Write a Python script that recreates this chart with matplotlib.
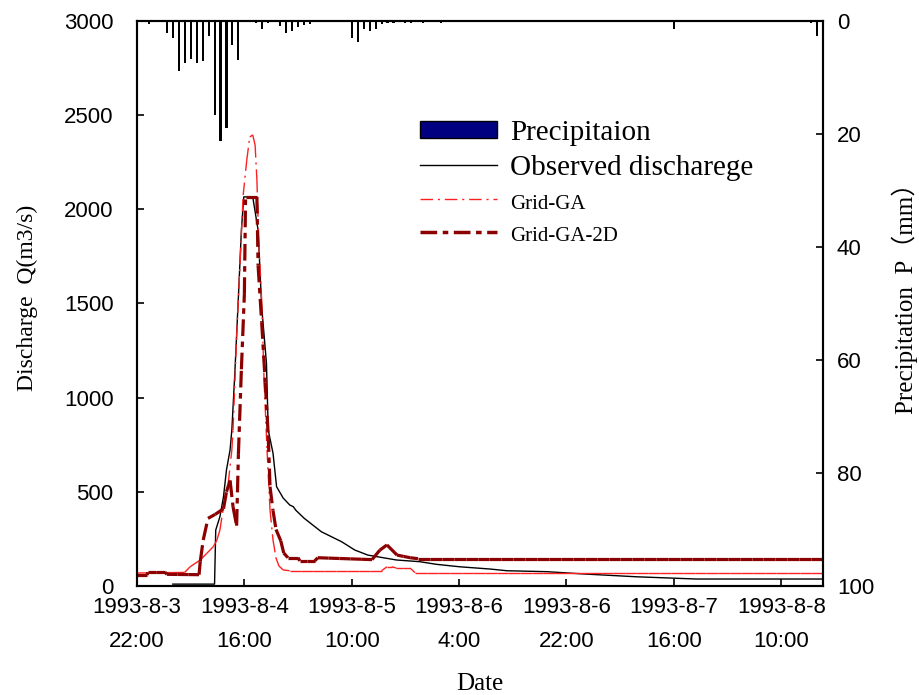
import numpy as np
import matplotlib.pyplot as plt
from matplotlib.collections import LineCollection
from matplotlib.lines import Line2D
from matplotlib.patches import Patch

plt.rcParams['font.family'] = 'Liberation Sans'
plt.rcParams['lines.scale_dashes'] = False

# time axis = hours after 1993-8-3 22:00
tick_hours = [0, 18, 36, 54, 72, 90, 108]
tick_labels = ["1993-8-3\n22:00", "1993-8-4\n16:00", "1993-8-5\n10:00", "1993-8-6\n4:00",
               "1993-8-6\n22:00", "1993-8-7\n16:00", "1993-8-8\n10:00"]

# hourly precipitation (mm)
rain_h = [2, 5, 6, 7, 8, 9, 10, 11, 12, 13, 14, 15, 16, 17, 20, 21, 22, 24, 25, 26, 27, 28, 29,
          36, 37, 38, 39, 40, 41, 42, 43, 45, 46, 48, 51, 90, 113, 114]
rain_mm = [0.5, 2.1, 3.1, 8.9, 7.5, 6.8, 7.5, 7.2, 2.7, 16.7, 21.2, 18.9, 4.3, 7.0, 0.4, 1.4, 0.4,
           0.9, 2.1, 1.8, 1.1, 0.8, 0.5, 3.1, 3.8, 1.4, 1.8, 1.4, 0.5, 0.4, 0.4, 0.4, 0.4, 0.4, 0.4,
           1.4, 0.4, 2.7]

# observed discharge
obs_h = [6.0, 12.6, 13.0, 13.2, 13.9, 14.5, 15.0, 15.6, 15.9, 16.4, 17.0, 17.5, 17.9, 19.4, 20.3,
         20.9, 21.7, 22.0, 22.8, 23.4, 24.5, 25.6, 26.2, 26.6, 28.0, 30.9, 34.3, 36.5, 38.7, 43.5,
         47.4, 50.2, 54.1, 59.2, 62.0, 68.7, 74.8, 83.7, 93.8, 115]
obs_q = [10, 10, 10, 297, 368, 474, 616, 722, 828, 1130, 1535, 1889, 2065, 2065, 1889,
         1482, 1183, 828, 705, 527, 467, 430, 421, 403, 360, 288, 235, 191, 164, 138,
         129, 115, 102, 90, 81, 76, 64, 49, 37, 37]

# Grid-GA
ga_h = [0, 8.0, 8.9, 10.6, 11.7, 12.8, 13.4, 13.9, 14.5, 15.3, 15.9, 16.1, 16.7, 17.3, 17.8,
        18.4, 18.9, 19.4, 19.8, 20.1, 20.4, 20.9, 21.3, 21.8, 22.3, 22.8, 23.3, 23.8, 24.5,
        25.6, 41.0, 41.9, 42.7, 43.5, 45.8, 46.6, 115]
ga_q = [69, 72, 102, 138, 173, 209, 244, 297, 420, 547, 722, 828, 1321, 1730, 2075,
        2260, 2383, 2394, 2340, 2155, 1836, 1518, 1093, 722, 403, 244, 149, 106, 85,
        81, 81, 102, 102, 95, 95, 71, 71]

# Grid-GA-2D
ga2d_h = [0, 1.7, 1.8, 4.7, 5.0, 10.4, 10.6, 11.1, 11.9, 13.1, 14.5, 15.0, 15.6, 16.1, 16.7,
          17.0, 17.5, 18.0, 18.2, 20.1, 20.3, 20.9, 21.5, 22.0, 22.3, 22.8, 23.3, 24.1, 24.6,
          25.3, 27.0, 27.3, 29.8, 30.3, 39.4, 40.7, 41.9, 43.6, 45.8, 47.1, 115]
ga2d_q = [58, 58, 73, 73, 62, 60, 129, 244, 359, 380, 410, 500, 560, 420, 320,
          700, 1150, 1550, 2065, 2065, 1700, 1400, 1080, 800, 527, 400, 300, 240, 175,
          150, 150, 133, 133, 150, 140, 190, 218, 164, 150, 145, 145]


def segments(h, q, step=2.0):
    # one path per piece so the dash pattern starts again on every piece,
    # as in the original plot (flat parts look solid, steep parts dashed)
    out = []
    for i in range(len(h) - 1):
        n = max(1, int(np.ceil((h[i + 1] - h[i]) / step)))
        xs = np.linspace(h[i], h[i + 1], n + 1)
        ys = np.linspace(q[i], q[i + 1], n + 1)
        out += [[(xs[j], ys[j]), (xs[j + 1], ys[j + 1])] for j in range(n)]
    return out


ga_dash = (0, (9, 3.5, 1.5, 3.5))
ga2d_dash = (0, (12, 4, 4, 4))

fig = plt.figure(figsize=(9.2, 6.95), dpi=100)
ax = fig.add_axes([137 / 920, 1 - 586 / 695, 686 / 920, 565.3 / 695])
ax2 = ax.twinx()

ax.plot(obs_h, obs_q, color='black', lw=1.0)
ax.add_collection(LineCollection(segments(ga_h, ga_q), colors='#ff2020', linewidths=1.0,
                                 linestyles=[ga_dash], capstyle='butt'))
ax.add_collection(LineCollection(segments(ga2d_h, ga2d_q), colors='#8b0000', linewidths=2.3,
                                 linestyles=[ga2d_dash], capstyle='butt'))

ax2.bar(rain_h, rain_mm, width=0.35, color='black')

ax.set_xlim(0, 115)
ax.set_ylim(0, 3000)
ax2.set_ylim(100, 0)
ax.set_xticks(tick_hours)
ax.set_xticklabels(tick_labels, linespacing=1.8)
ax.set_yticks([0, 500, 1000, 1500, 2000, 2500, 3000])
ax2.set_yticks([0, 20, 40, 60, 80, 100])

ax.tick_params(axis='x', direction='in', length=5, width=1.2, labelsize=16, pad=8)
ax.tick_params(axis='y', direction='in', length=5, width=1.2, labelsize=16, pad=17)
ax2.tick_params(axis='y', direction='in', length=5, width=1.2, labelsize=16, pad=10)
for a in (ax, ax2):
    for s in a.spines.values():
        s.set_linewidth(1.5)

ax.set_xlabel("Date", family='Liberation Serif', fontsize=18, labelpad=15)
ax.set_ylabel("Discharge  Q(m3/s)", family='Liberation Serif', fontsize=17)
ax.yaxis.set_label_coords(-0.144, 0.51)
ax2.set_ylabel("Precipitation  P（mm）", family=['Liberation Serif', 'Noto Sans CJK SC'],
               fontsize=18)
ax2.yaxis.set_label_coords(1.10, 0.52)

handles = [Patch(facecolor='#000080', edgecolor='black'),
           Line2D([], [], color='black', lw=1.0),
           Line2D([], [], color='#ff2020', lw=1.0, linestyle=ga_dash),
           Line2D([], [], color='#8b0000', lw=2.5, linestyle=ga2d_dash)]
labels = ["Precipitaion", "Observed discharege", "Grid-GA", "Grid-GA-2D"]
leg = ax2.legend(handles, labels, loc='upper left', bbox_to_anchor=(420 / 920, 1 - 120 / 695),
                 bbox_transform=fig.transFigure, frameon=False, borderpad=0, borderaxespad=0,
                 handlelength=2.65, handleheight=0.55, handletextpad=0.45, labelspacing=0.3,
                 prop={'family': 'Liberation Serif', 'size': 21})
for t in leg.get_texts()[2:]:
    t.set_fontsize(15)

fig.savefig("out.png", dpi=100)
